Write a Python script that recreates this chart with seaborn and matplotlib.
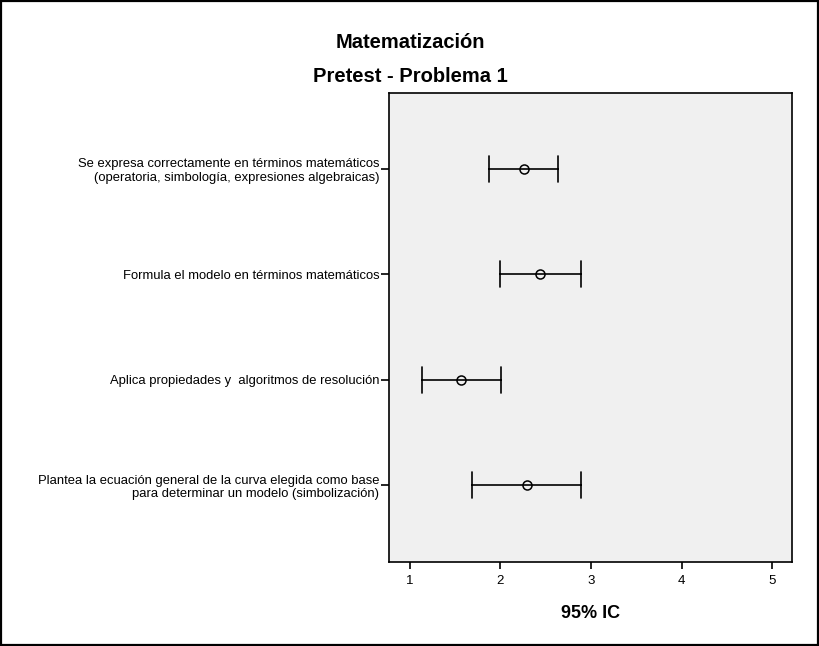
"""
Error bar chart (95% IC) - Matematización, Pretest - Problema 1
"""
import matplotlib
matplotlib.use("Agg")
import matplotlib.pyplot as plt
import seaborn as sns
import pandas as pd
from matplotlib.patches import Rectangle

# Items (categories, top to bottom)
items = [
    "Se expresa correctamente en términos matemáticos\n(operatoria, simbología, expresiones algebraicas)",
    "Formula el modelo en términos matemáticos",
    "Aplica propiedades y  algoritmos de resolución",
    "Plantea la ecuación general de la curva elegida como base\npara determinar un modelo (simbolización)",
]

# Mean and 95% CI bounds
ci_low = [1.88, 2.00, 1.14, 1.69]
means = [2.26, 2.44, 1.57, 2.29]
ci_high = [2.64, 2.89, 2.01, 2.89]

x_ticks = [1, 2, 3, 4, 5]

# long form: lower, mean, upper per item -> median + full range gives mean and CI
rows = []
for item, lo, m, hi in zip(items, ci_low, means, ci_high):
    for v in (lo, m, hi):
        rows.append({"item": item, "valor": v})
df = pd.DataFrame(rows)

sns.set_style("ticks")
plt.rcParams["font.family"] = ["Liberation Sans", "DejaVu Sans"]
plt.rcParams["text.color"] = "black"
plt.rcParams["xtick.color"] = "black"
plt.rcParams["ytick.color"] = "black"

fig = plt.figure(figsize=(8.2, 6.46), dpi=100)
ax = fig.add_axes([0.4744, 0.130, 0.4915, 0.726])
ax.set_facecolor("#f0f0f0")

sns.pointplot(data=df, x="valor", y="item", order=items,
              estimator="median", errorbar=("pi", 100),
              linestyle="none", marker="o", markersize=6.5,
              markerfacecolor="none", markeredgewidth=1.1,
              color="black", capsize=0.25,
              err_kws={"linewidth": 1.2}, ax=ax)

ax.set_xlim(0.771, 5.22)
ax.set_ylim(3.73, -0.72)
ax.set_xticks(x_ticks)
ax.set_xticklabels([str(t) for t in x_ticks])
ax.set_yticks(range(len(items)))
ax.set_yticklabels(items, linespacing=1.15)

for side in ["left", "right", "top", "bottom"]:
    ax.spines[side].set_visible(True)
    ax.spines[side].set_color("black")
    ax.spines[side].set_linewidth(1.2)

ax.tick_params(axis="y", left=True, length=6, width=1.2, color="black",
               labelcolor="black", labelsize=9.4, pad=1)
ax.tick_params(axis="x", bottom=True, length=5, width=1.2, color="black",
               labelcolor="black", labelsize=9.5, pad=4)

ax.set_ylabel("")
ax.set_xlabel("95% IC", fontsize=13, fontweight="bold", labelpad=13, color="black")

fig.text(0.5, 1 - 42 / 646, "Matematización", ha="center", va="center",
         fontsize=14.5, fontweight="bold")
fig.text(0.5, 1 - 77 / 646, "Pretest - Problema 1", ha="center", va="center",
         fontsize=14.5, fontweight="bold")

# black border around the figure
fig.patches.append(Rectangle((0.001, 0.002), 0.997, 0.996, transform=fig.transFigure,
                             fill=False, edgecolor="black", linewidth=1.6))

plt.savefig("out.png", dpi=100)
